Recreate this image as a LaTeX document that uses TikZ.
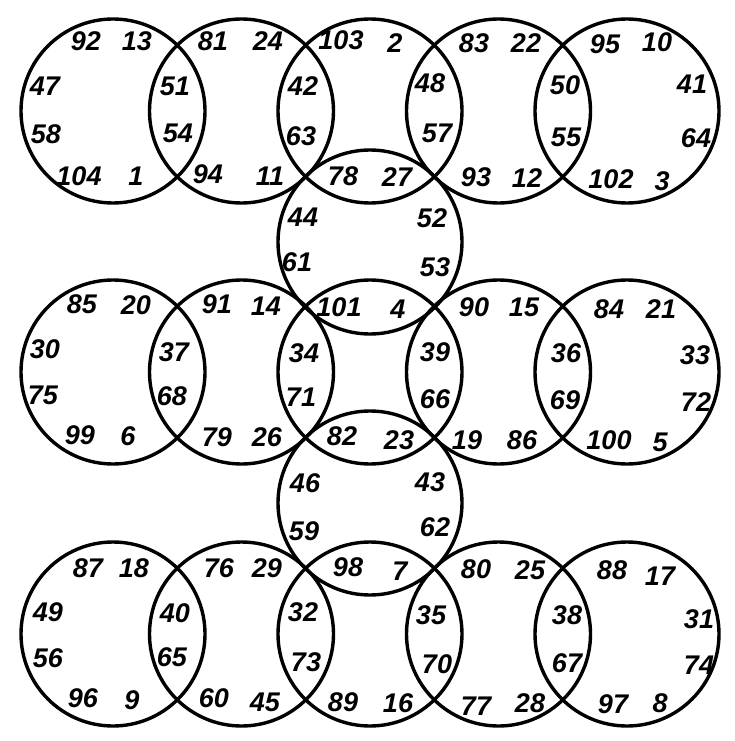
\documentclass[tikz,border=0pt]{standalone}
\usepackage{fontspec}
\setmainfont{Liberation Sans}
\begin{document}
\begin{tikzpicture}[x=1pt,y=-1pt,
  ring/.style={circle,draw,line width=3.4pt,minimum size=184pt,inner sep=0pt},
  num/.style={font=\fontsize{27}{27}\selectfont\bfseries\itshape,inner sep=0pt}]
\useasboundingbox[fill=white] (0,0) rectangle (734,741);
% rows of five circles
\foreach \r/\y in {1/111,2/372,3/634}{
  \foreach \c/\x in {1/113,2/241.5,3/370,4/498.5,5/627}{
    \node[ring] (c\r\c) at (\x,\y) {};
  }
}
% two middle circles
\node[ring] (m1) at (370,242) {};
\node[ring] (m2) at (370,503) {};
% numbers
\foreach \t/\x/\y in {
 92/86/41, 13/137/41, 47/45/86, 58/46/134, 104/79/176, 1/136/176,
 51/175/86, 54/178/133, 81/213/41, 24/268/41, 94/208/174, 11/270/176,
 103/341/40, 42/303/86, 63/301/136, 78/343/176, 44/303/217,
 2/395/43, 83/474/43, 22/526/43, 95/605/44, 10/657/42, 41/692/84,
 64/696/138, 102/611/179, 3/662/181, 48/430/83, 57/437/133, 50/565/85,
 55/566/137, 93/476/177, 12/527/178, 27/397/177, 52/432/218,
 61/297/262, 85/82/304, 20/136/305, 30/45/349, 75/43/395, 99/80/435,
 6/128/436, 37/174/352, 68/172/396, 91/217/304, 14/266/306, 79/217/437,
 26/267/437, 34/304/353, 71/301/397, 101/339/307, 82/342/436,
 53/435/267, 4/398/309, 90/474/307, 15/524/307, 84/609/309, 21/661/309,
 33/695/355, 72/696/402, 39/435/352, 66/435/399, 36/566/353, 69/565/400,
 23/399/440, 19/467/440, 86/522/440, 100/609/440, 5/660/442,
 46/305/483, 59/304/531, 87/88/568, 18/134/568, 49/48/612, 56/48/658,
 96/83/698, 9/132/700, 40/175/613, 65/172/657, 76/219/568, 29/267/568,
 60/214/698, 45/265/702, 32/303/612, 73/306/662, 98/348/567, 89/343/702,
 43/430/482, 62/435/527, 7/400/571, 80/476/569, 25/530/570, 88/612/570,
 17/660/576, 31/699/619, 74/699/665, 97/613/704, 8/660/703, 35/431/615,
 70/437/664, 38/567/615, 67/567/663, 16/398/703, 77/476/706, 28/530/703}{
  \node[num] (n\t) at (\x,\y) {\t};
}
\end{tikzpicture}
\end{document}
